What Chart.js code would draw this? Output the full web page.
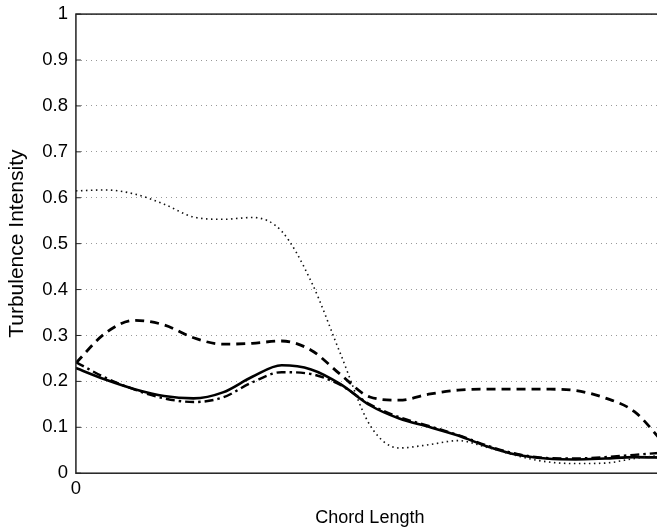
<!DOCTYPE html>
<html>
<head>
<meta charset="utf-8">
<script src="https://cdn.jsdelivr.net/npm/chart.js@4.4.1/dist/chart.umd.min.js"></script>
<style>
  html, body { margin: 0; padding: 0; background: #fff; overflow: hidden; }
  canvas { position: absolute; left: 0; top: -5px; }
</style>
</head>
<body>
<canvas id="myChart" width="674" height="536" style="width:674px;height:536px"></canvas>
<script>
// chord position (normalised) and the four turbulence intensity curves
const chord = [0, 0.05, 0.1, 0.15, 0.2, 0.25, 0.3, 0.35, 0.4, 0.45, 0.5,
               0.55, 0.6, 0.65, 0.7, 0.75, 0.8, 0.85, 0.9, 0.95, 1];
const dotted = [0.615, 0.617, 0.608, 0.586, 0.558, 0.553, 0.557, 0.527, 0.418, 0.26, 0.105,
                0.055, 0.062, 0.071, 0.056, 0.038, 0.025, 0.021, 0.022, 0.032, 0.04];
const dashed = [0.24, 0.305, 0.333, 0.323, 0.295, 0.281, 0.283, 0.288, 0.268, 0.215, 0.166,
                0.159, 0.172, 0.181, 0.183, 0.183, 0.183, 0.18, 0.164, 0.134, 0.065];
const solid = [0.229, 0.204, 0.183, 0.168, 0.163, 0.176, 0.21, 0.235, 0.226, 0.194, 0.148,
               0.119, 0.101, 0.082, 0.058, 0.04, 0.032, 0.03, 0.032, 0.035, 0.034];
const dashDot = [0.242, 0.208, 0.182, 0.163, 0.155, 0.165, 0.198, 0.22, 0.216, 0.192, 0.15,
                 0.122, 0.103, 0.083, 0.06, 0.042, 0.033, 0.032, 0.035, 0.04, 0.045];
const yTicks = [0, 0.1, 0.2, 0.3, 0.4, 0.5, 0.6, 0.7, 0.8, 0.9, 1];

const toPoints = (vals) => vals.map((v, i) => ({ x: chord[i], y: v }));

// box round the plot + small inward ticks like the matlab figure
const boxPlugin = {
    id: "box",
    afterDraw(chart) {
        const { ctx, chartArea: a, scales } = chart;
        ctx.save();
        ctx.strokeStyle = "#222";
        ctx.lineWidth = 1.5;
        ctx.strokeRect(a.left, a.top, a.right - a.left, a.bottom - a.top);
        ctx.lineWidth = 1;
        yTicks.forEach(t => {
            const y = scales.y.getPixelForValue(t);
            ctx.beginPath();
            ctx.moveTo(a.left, y); ctx.lineTo(a.left + 5, y);
            ctx.moveTo(a.right, y); ctx.lineTo(a.right - 5, y);
            ctx.stroke();
        });
        ctx.restore();
    }
};

const family = "'Liberation Sans', Arial, sans-serif";
const tickFont = { family: family, size: 18.5 };

new Chart(document.getElementById("myChart"), {
    type: "line",
    data: {
        datasets: [
            { data: toPoints(dotted), borderColor: "#111", borderWidth: 1.6, borderDash: [1.5, 3.5] },
            { data: toPoints(dashed), borderColor: "#000", borderWidth: 2.8, borderDash: [9, 6] },
            { data: toPoints(solid), borderColor: "#000", borderWidth: 2.6 },
            { data: toPoints(dashDot), borderColor: "#000", borderWidth: 2.4, borderDash: [9, 4, 2.5, 4] }
        ]
    },
    options: {
        responsive: false,
        animation: false,
        layout: { padding: { top: 0, right: 0, left: 5, bottom: 2 } },
        elements: {
            point: { radius: 0 },
            line: { tension: 0.4, cubicInterpolationMode: "monotone", fill: false }
        },
        plugins: {
            legend: { display: false },
            tooltip: { enabled: false }
        },
        scales: {
            x: {
                type: "linear",
                min: 0,
                max: 1,
                grid: { display: false, drawTicks: false },
                border: { display: false },
                ticks: { stepSize: 1, padding: 5, color: "#000", font: tickFont, maxRotation: 0 },
                title: { display: true, text: "Chord Length", color: "#000",
                         font: { family: family, size: 18 }, padding: { top: 2, bottom: 0 } }
            },
            y: {
                min: 0,
                max: 1,
                grid: { color: "#999", borderDash: [1, 4], drawTicks: false, lineWidth: 1 },
                border: { display: false, dash: [1, 4] },
                ticks: { stepSize: 0.1, padding: 8, color: "#000", font: tickFont,
                         callback: v => String(+v.toFixed(1)) },
                title: { display: true, text: "Turbulence Intensity", color: "#000",
                         font: { family: family, size: 21 }, padding: { top: 0, bottom: 4 } }
            }
        }
    },
    plugins: [boxPlugin]
});
</script>
</body>
</html>
